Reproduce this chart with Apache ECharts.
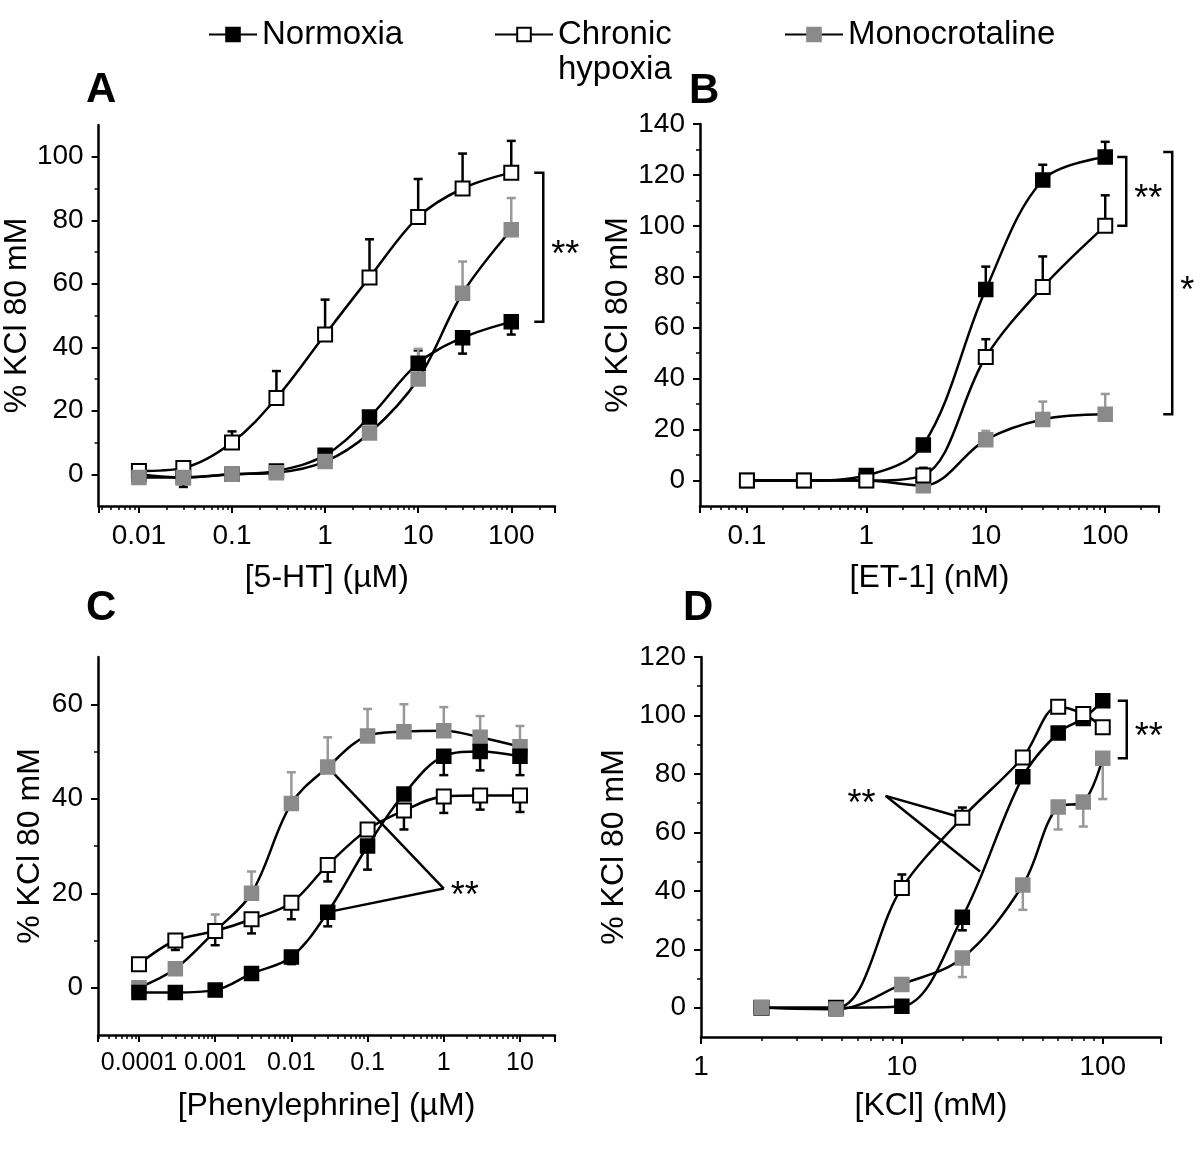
<!DOCTYPE html>
<html>
<head>
<meta charset="utf-8">
<title>Contractile responses</title>
<script src="https://cdn.jsdelivr.net/npm/echarts@6.0.0/dist/echarts.min.js"></script>
<style>
html,body{margin:0;padding:0;background:#fff;}
#chart{width:1200px;height:1149px;}
</style>
</head>
<body>
<div id="chart"></div>
<script>
// ---------------- data ----------------
const seriesNames = ['Normoxia', 'Chronic hypoxia', 'Monocrotaline'];
const yTitle = '% KCl 80 mM';
const xTitles = ['[5-HT] (µM)', '[ET-1] (nM)', '[Phenylephrine] (µM)', '[KCl] (mM)'];
const panelLetters = ['A', 'B', 'C', 'D'];

// Panel A : 5-HT (µM)
const xA = [0.01, 0.03, 0.1, 0.3, 1, 3, 10, 30, 100];
const normA = [0, -1, 0, 1, 6, 18, 35, 43, 48];
const normAErr = [0, -3, 0, 0, 0, 0, 4, -5, -4];
const chA = [1, 2, 10, 24, 44, 62, 81, 90, 95];
const chAErr = [0, 0, 3.5, 8.5, 11, 12, 12, 11, 10];
const monoA = [-1, -1, 0, 0.5, 4, 13, 30, 57, 77];
const monoAErr = [0, 0, 0, 0, 0, 0, 9.5, 10, 10];

// Panel B : ET-1 (nM)
const xB = [0.1, 0.3, 1, 3, 10, 30, 100];
const normB = [0, 0, 2, 14, 75, 118, 127];
const normBErr = [0, 0, 0, 0, 9, 6, 6];
const chB = [0, 0, 0, 2, 48.5, 76, 100];
const chBErr = [1, 0, 0, 3, 7, 12, 12];
const monoB = [0, 0, 0, -2, 16, 24, 26];
const monoBErr = [0, 0, 0, 0, 3.5, 7, 8];

// Panel C : Phenylephrine (µM)
const xC = [0.0001, 0.0003, 0.001, 0.003, 0.01, 0.03, 0.1, 0.3, 1, 3, 10];
const normC = [-1, -1, -0.5, 3, 6.5, 16, 30, 41, 49, 50, 49];
const normCErr = [0, 0, 0, 0, -1.5, -3, -5, 0, -4, -4, -4];
const chC = [5, 10, 12, 14.5, 18, 26, 33.5, 37.5, 40.5, 40.7, 40.7];
const chCErr = [0, -2, -3, -3, -3.5, -3.5, 0, -4, -3.5, -3, -3.5];
const monoC = [0, 4, 12, 20, 39, 46.7, 53.3, 54.2, 54.4, 53, 51];
const monoCErr = [0, 0, 3.5, 4.6, 6.6, 6.3, 5.7, 5.8, 5, 4.5, 4.4];

// Panel D : KCl (mM)
const xD = [2, 4.7, 10, 20, 40, 60, 80, 100];
const normD = [0, 0, 0.5, 31, 79, 94, 99, 105];
const normDErr = [0, 0, 0, -4.5, 0, 0, 0, 0];
const chD = [0, 0, 41, 65, 85.6, 103, 100.5, 96];
const chDErr = [0, 0, 4.6, 3.5, 0, 0, 0, 0];
const monoD = [0, -0.5, 8, 17, 42, 68.7, 70.4, 85.4];
const monoDErr = [0, 0, 0, -6.5, -8.5, -7.7, -8.4, -14];

// tick labels
const xTicksA = [0.01, 0.1, 1, 10, 100];
const xTicksB = [0.1, 1, 10, 100];
const xTicksC = [0.0001, 0.001, 0.01, 0.1, 1, 10];
const xTicksD = [1, 10, 100];
const yTicksA = [0, 20, 40, 60, 80, 100];
const yTicksB = [0, 20, 40, 60, 80, 100, 120, 140];
const yTicksC = [0, 20, 40, 60];
const yTicksD = [0, 20, 40, 60, 80, 100, 120];

// annotation anchors (data coordinates)
const starVertexC = [1, 21];
const starVertexD = [8.3, 72.5];
const curvePointD = [24.5, 46.6];

// ---------------- layout / style ----------------
const FONT = "'Liberation Sans', Arial, Helvetica, sans-serif";
const GRAY = '#8a8a8a';
const LW = 2.5;
const layout = [
  {left: 98, top: 125, width: 457, height: 381, xMin: 0.00369, xMax: 295, yMin: -10, yMax: 110, yGap: 49, xGap: 56, xFont: 28, letter: [86, 69]},
  {left: 700, top: 124, width: 459, height: 382, xMin: 0.0405, xMax: 282, yMin: -10, yMax: 140, yGap: 65, xGap: 56, xFont: 28, letter: [689, 70]},
  {left: 98, top: 657, width: 457, height: 378, xMin: 0.000029, xMax: 28.8, yMin: -10, yMax: 70, yGap: 52, xGap: 55, xFont: 25, letter: [86, 587]},
  {left: 701, top: 657, width: 460, height: 380, xMin: 1, xMax: 195, yMin: -10, yMax: 120, yGap: 71, xGap: 53, xFont: 28, letter: [683, 587]}
];
const panelData = [
  {x: xA, xt: xTicksA, yt: yTicksA, sets: [[normA, normAErr], [chA, chAErr], [monoA, monoAErr]], order: [0, 1, 2]},
  {x: xB, xt: xTicksB, yt: yTicksB, sets: [[normB, normBErr], [chB, chBErr], [monoB, monoBErr]], order: [2, 0, 1]},
  {x: xC, xt: xTicksC, yt: yTicksC, sets: [[normC, normCErr], [chC, chCErr], [monoC, monoCErr]], order: [2, 1, 0]},
  {x: xD, xt: xTicksD, yt: yTicksD, sets: [[normD, normDErr], [chD, chDErr], [monoD, monoDErr]], order: [0, 1, 2]}
];
const markerStyle = [
  {color: '#000', borderColor: '#000', borderWidth: 1.5},
  {color: '#fff', borderColor: '#000', borderWidth: 2},
  {color: GRAY, borderColor: GRAY, borderWidth: 1.5}
];
const errColor = ['#000', '#000', '#999'];

function logMinor(min, max) {
  const out = [];
  for (let e = Math.floor(Math.log10(min)); e <= Math.ceil(Math.log10(max)); e++) {
    for (let m = 2; m <= 9; m++) {
      const v = m * Math.pow(10, e);
      if (v > min && v < max) out.push(Math.log10(v));
    }
  }
  return out;
}
function yMinor(ticks) {
  const out = [];
  for (let i = 0; i < ticks.length - 1; i++) out.push((ticks[i] + ticks[i + 1]) / 2);
  return out;
}

const grids = [], xAxes = [], yAxes = [], series = [], titles = [];
const axisLineStyle = {show: true, onZero: false, lineStyle: {color: '#000', width: 2.5}};
const labelStyle = {color: '#000', fontFamily: FONT, fontSize: 28};
const nameStyle = {color: '#000', fontFamily: FONT, fontSize: 32};

layout.forEach((L, g) => {
  const P = panelData[g];
  grids.push({left: L.left, top: L.top, width: L.width, height: L.height, containLabel: false});
  xAxes.push({
    type: 'log', logBase: 10, gridIndex: g, position: 'bottom', min: L.xMin, max: L.xMax,
    name: xTitles[g], nameLocation: 'middle', nameGap: L.xGap, nameTextStyle: nameStyle,
    axisLine: axisLineStyle,
    axisTick: {show: true, inside: false, length: 7, lineStyle: {color: '#000', width: 2}},
    axisLabel: {
      ...labelStyle, fontSize: L.xFont, margin: 16,
      formatter: function (v) {
        const hit = P.xt.find(t => Math.abs(Math.log10(t) - Math.log10(v)) < 1e-6);
        return hit === undefined ? '' : String(hit);
      }
    },
    splitLine: {show: false}, minorTick: {show: false}
  });
  xAxes.push({
    type: 'value', gridIndex: g, position: 'bottom', min: Math.log10(L.xMin), max: Math.log10(L.xMax),
    axisLine: {show: false, onZero: false}, axisLabel: {show: false}, splitLine: {show: false},
    axisTick: {show: true, inside: false, length: 4, customValues: logMinor(L.xMin, L.xMax), lineStyle: {color: '#000', width: 1.5}}
  });
  yAxes.push({
    type: 'value', gridIndex: g, position: 'left', min: L.yMin, max: L.yMax,
    name: yTitle, nameLocation: 'middle', nameGap: L.yGap, nameRotate: 90, nameTextStyle: nameStyle,
    axisLine: axisLineStyle,
    axisTick: {show: true, inside: false, length: 7, customValues: P.yt, lineStyle: {color: '#000', width: 2}},
    axisLabel: {...labelStyle, margin: 15, customValues: P.yt},
    splitLine: {show: false}
  });
  yAxes.push({
    type: 'value', gridIndex: g, position: 'left', min: L.yMin, max: L.yMax,
    axisLine: {show: false, onZero: false}, axisLabel: {show: false}, splitLine: {show: false},
    axisTick: {show: true, inside: false, length: 4, customValues: yMinor(P.yt), lineStyle: {color: '#000', width: 1.5}}
  });
  titles.push({
    text: panelLetters[g], left: L.letter[0], top: L.letter[1], padding: 0,
    textStyle: {fontFamily: FONT, fontSize: 42, fontWeight: 'bold', color: '#000'}
  });
});

// line + marker series (added first so the legend reads their style)
panelData.forEach((P, g) => {
  P.order.forEach(k => {
    const ys = P.sets[k][0];
    series.push({
      type: 'line', name: seriesNames[k], xAxisIndex: 2 * g, yAxisIndex: 2 * g,
      data: P.x.map((x, i) => [x, ys[i]]),
      symbol: 'rect', symbolSize: 14, showAllSymbol: true,
      smooth: 0.35,
      lineStyle: {color: '#000', width: LW},
      itemStyle: markerStyle[k],
      emphasis: {disabled: true}, z: 3 + P.order.indexOf(k) * 0.01, silent: true
    });
  });
});

// error bars
panelData.forEach((P, g) => {
  P.sets.forEach((set, k) => {
    const ys = set[0], errs = set[1];
    const data = [];
    P.x.forEach((x, i) => { if (errs[i]) data.push([x, ys[i], ys[i] + errs[i]]); });
    const color = errColor[k];
    series.push({
      type: 'custom', name: seriesNames[k], xAxisIndex: 2 * g, yAxisIndex: 2 * g, z: 2, silent: true, clip: false,
      encode: {x: 0, y: [1, 2]}, data: data,
      renderItem: function (params, api) {
        const p0 = api.coord([api.value(0), api.value(1)]);
        const p1 = api.coord([api.value(0), api.value(2)]);
        return {type: 'group', children: [
          {type: 'line', shape: {x1: p0[0], y1: p0[1], x2: p1[0], y2: p1[1]}, style: {stroke: color, lineWidth: LW}},
          {type: 'line', shape: {x1: p1[0] - 4.5, y1: p1[1], x2: p1[0] + 4.5, y2: p1[1]}, style: {stroke: color, lineWidth: LW}}
        ]};
      }
    });
  });
});

// significance brackets: anchored on data values, pixel offset to the right
function bracket(g, xv, y1, y2, dx, label) {
  series.push({
    type: 'custom', xAxisIndex: 2 * g, yAxisIndex: 2 * g, z: 4, silent: true, clip: false,
    encode: {x: 0, y: [1, 2]}, data: [[xv, y1, y2]],
    renderItem: function (params, api) {
      const a = api.coord([api.value(0), api.value(1)]);
      const b = api.coord([api.value(0), api.value(2)]);
      const x = a[0] + dx, tick = 9;
      return {type: 'group', children: [
        {type: 'polyline', shape: {points: [[x - tick, a[1]], [x, a[1]], [x, b[1]], [x - tick, b[1]]]}, style: {stroke: '#000', lineWidth: LW, fill: null}},
        {type: 'text', style: {text: label, x: x + 8, y: (a[1] + b[1]) / 2 + 9, font: '36px ' + FONT, fill: '#000', align: 'left', verticalAlign: 'middle'}}
      ]};
    }
  });
}
bracket(0, xA[8], normA[8], chA[8], 32, '**');
bracket(1, xB[6], chB[6], normB[6], 21, '**');
bracket(1, xB[6], monoB[6], normB[6] + 2, 67, '*');
bracket(3, xD[7], monoD[7], normD[7], 24, '**');

// converging "**" pointers
function pointer(g, vertex, ends, textSide) {
  series.push({
    type: 'custom', xAxisIndex: 2 * g, yAxisIndex: 2 * g, z: 2.5, silent: true, clip: false,
    encode: {x: 0, y: 1}, data: [[vertex[0], vertex[1]]],
    renderItem: function (params, api) {
      const v = api.coord([api.value(0), api.value(1)]);
      const kids = ends.map(e => {
        const p = api.coord(e);
        return {type: 'line', shape: {x1: v[0], y1: v[1], x2: p[0], y2: p[1]}, style: {stroke: '#000', lineWidth: LW}};
      });
      kids.push({type: 'text', style: {
        text: '**', x: textSide === 'right' ? v[0] + 7 : v[0] - 10, y: v[1] + 9,
        font: '36px ' + FONT, fill: '#000', align: textSide === 'right' ? 'left' : 'right', verticalAlign: 'middle'}});
      return {type: 'group', children: kids};
    }
  });
}
pointer(2, starVertexC, [[xC[5], monoC[5]], [xC[5], normC[5]]], 'right');
pointer(3, starVertexD, [[xD[3], chD[3]], curvePointD], 'left');

// legend (three blocks; the two-line label keeps its icon on the first line)
const legendText = {color: '#000', fontFamily: FONT, fontSize: 33, lineHeight: 35};
const legends = [
  {data: [seriesNames[0]], left: 208, top: 17, padding: 0, itemWidth: 48, itemHeight: 17, selectedMode: false, textStyle: legendText},
  {data: [seriesNames[1]], left: 494, top: -18, padding: 0, itemWidth: 58, itemHeight: 17, selectedMode: false,
   formatter: function () { return '\nChronic\nhypoxia'; }, textStyle: legendText},
  {data: [seriesNames[2]], left: 784, top: 17, padding: 0, itemWidth: 58, itemHeight: 17, selectedMode: false, textStyle: legendText}
];

const chart = echarts.init(document.getElementById('chart'), null, {renderer: 'canvas'});
chart.setOption({
  backgroundColor: '#fff',
  animation: false,
  title: titles,
  legend: legends,
  grid: grids,
  xAxis: xAxes,
  yAxis: yAxes,
  series: series
});
</script>
</body>
</html>
